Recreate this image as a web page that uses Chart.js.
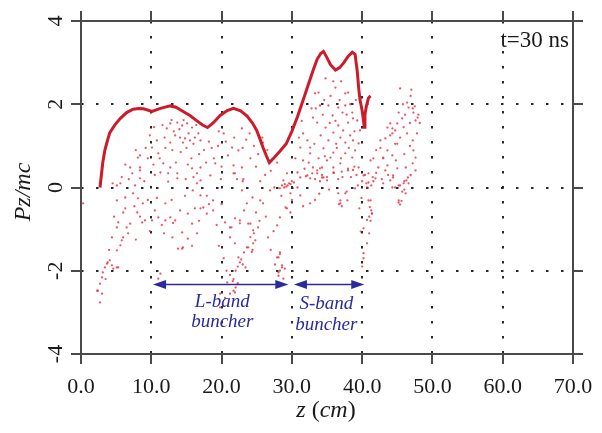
<!DOCTYPE html>
<html><head><meta charset="utf-8">
<script src="https://cdn.jsdelivr.net/npm/chart.js@4/dist/chart.umd.min.js"></script>
<style>html,body{margin:0;padding:0;background:#fff}#wrap{width:602px;height:433px}</style>
</head><body><div id="wrap"><canvas id="c" width="602" height="433"></canvas></div>
<script>
// ---- data ----
const xTickValues = [0, 10, 20, 30, 40, 50, 60, 70];
const xTickLabels = ['0.0', '10.0', '20.0', '30.0', '40.0', '50.0', '60.0', '70.0'];
const yTickValues = [4, 2, 0, -2, -4];
const yTickLabels = ['4', '2', '0', '-2', '-4'];
const xTitle = ['z', ' (', 'cm', ')'];
const yTitle = 'Pz/mc';
const timeLabel = 't=30 ns';

// dense front of the bunch (z, Pz)
const frontZ  = [2.7,2.9,3.1,3.4,3.8,4.1,4.8,5.6,6.5,7.4,8.2,8.9,10.1,11.3,12.7,13.5,14.3,15.5,16.5,17.3,18.0,18.8,19.8,20.8,21.7,22.7,23.6,24.4,25.0,25.5,25.9,26.4,26.8,27.5,28.3,29.2,30.0,30.8,31.5,32.1,32.6,33.1,33.6,34.1,34.5,34.9,35.5,36.2,36.8,37.4,38.0,38.6,39.0,39.3,39.5,39.7,40.0,40.2,40.3,40.4,40.6,40.9,41.2];
const frontPz = [0.0,0.3,0.6,0.9,1.15,1.32,1.5,1.66,1.8,1.88,1.9,1.89,1.83,1.9,1.96,1.93,1.85,1.73,1.6,1.5,1.44,1.55,1.73,1.85,1.9,1.84,1.72,1.55,1.37,1.15,0.96,0.75,0.6,0.72,0.87,1.05,1.35,1.7,2.05,2.35,2.6,2.85,3.08,3.22,3.27,3.15,2.95,2.82,2.88,3.0,3.15,3.25,3.2,2.8,2.4,2.1,1.85,1.6,1.45,1.75,1.95,2.15,2.2];

// scattered particles (z, Pz)
const cloudUpper = [[12.7,1.54],[13.7,1.56],[14.4,1.49],[15.1,1.54],[15.8,1.44],[12.2,1.42],[14.1,1.2],[14.8,1.18],[15.5,1.13],[16.2,1.2],[16.7,1.3],[14.5,1.08],[12.7,1.08],[10.8,1.13],[10.1,0.96],[11.0,0.82],[8.4,0.77],[9.5,0.7],[11.7,0.58],[12.7,0.48],[7.0,0.48],[8.4,0.48],[11.3,0.36],[12.4,0.34],[7.3,0.34],[13.7,0.34],[15.8,0.46],[16.5,0.34],[17.0,0.48],[17.0,1.13],[21.5,0.96],[22.4,0.89],[22.9,1.42],[20.9,0.77],[19.1,0.58],[21.7,0.53],[22.9,0.48],[24.1,0.7],[25.8,1.2],[25.9,1.08],[27.9,0.6],[21.9,0.34],[18.4,0.29],[13.2,1.35],[14.0,1.4],[15.3,1.3],[16.0,1.05],[13.0,0.9],[14.2,0.85],[15.7,0.7],[9.8,1.25],[11.9,1.2],[17.5,0.9],[18.2,1.1],[19.5,1.0],[20.3,1.3],[23.5,1.15],[24.6,1.0],[24.9,0.5],[26.2,0.3],[19.9,0.2],[9.0,0.15],[6.3,0.55],[5.8,0.25],[10.5,0.3],[14.9,0.2],[18.9,0.7],[23.1,0.2],[8.1,0.72],[8.4,0.41],[10.4,1.45],[11.6,1.5],[12.9,1.62],[14.6,1.62],[16.4,1.5],[13.4,1.25],[15.0,0.95],[16.8,0.8],[12.0,0.95],[11.2,0.7],[13.5,0.6],[15.2,0.55],[9.2,0.95],[10.3,0.55],[17.8,0.6],[18.6,0.95],[19.6,1.35],[20.6,1.1],[21.8,1.2],[23.0,0.95],[24.0,1.3],[25.2,0.8],[26.5,0.9],[27.0,0.4],[25.5,0.15],[20.0,0.5],[16.0,0.25],[7.8,0.9],[6.8,0.2],[4.5,0.1]];
const cloudSBand = [[31.2,0.96],[31.6,1.3],[32.2,1.13],[33.0,1.68],[33.6,1.56],[33.8,2.28],[33.3,2.26],[34.0,1.97],[32.6,0.82],[33.8,0.7],[33.0,0.48],[34.0,0.46],[33.6,0.34],[30.8,0.36],[32.2,0.29],[34.5,0.24],[34.8,2.62],[37.6,2.26],[38.0,2.28],[35.2,1.97],[36.6,1.92],[37.6,1.97],[37.2,1.8],[35.8,1.73],[38.6,1.8],[38.7,1.66],[38.0,1.56],[36.6,1.49],[34.8,1.44],[37.3,1.37],[35.9,1.32],[38.3,1.25],[36.9,1.2],[35.2,1.13],[37.6,1.08],[38.7,1.13],[34.5,0.94],[35.9,0.84],[37.6,0.82],[39.0,0.89],[35.0,0.65],[36.9,0.58],[38.6,0.72],[34.3,0.48],[35.9,0.36],[38.0,0.41],[39.5,1.06],[39.7,1.37],[39.3,1.61],[36.2,2.4],[36.8,2.1],[35.5,2.2],[34.4,1.75],[36.4,0.95],[38.9,0.5],[37.2,0.25],[32.9,0.34],[33.6,0.41],[34.3,0.24],[35.0,0.17],[29.3,0.34],[28.8,0.17],[31.6,0.65],[32.6,0.96],[31.0,1.2],[35.5,0.72],[35.9,0.48],[34.3,0.3],[35.0,0.25],[36.0,0.35],[37.1,0.38],[38.0,0.45],[38.7,0.42],[39.5,0.48],[33.4,1.9],[34.6,2.1],[35.9,2.55],[37.0,2.55],[38.3,2.0],[36.2,1.6],[37.8,1.75],[35.4,1.55],[34.1,1.25],[36.3,1.05],[38.1,0.95],[34.7,0.75],[37.0,0.7],[33.2,1.05],[31.8,0.45],[32.4,0.6],[36.6,0.2],[38.4,0.25],[39.2,0.3],[30.5,0.7],[31.4,1.6],[32.8,1.9],[39.1,2.1],[38.9,1.35]];
const cloudTail = [[45.4,2.38],[46.4,2.04],[46.6,1.92],[47.2,1.9],[47.3,1.8],[47.9,1.68],[47.6,1.61],[45.2,1.8],[45.7,1.66],[45.0,1.54],[44.3,1.42],[43.6,1.44],[44.7,1.37],[44.0,1.25],[43.3,1.18],[42.6,1.13],[45.4,1.2],[46.4,1.3],[47.2,1.13],[47.3,0.89],[47.6,0.72],[47.2,0.58],[47.6,0.41],[43.6,0.89],[44.3,0.77],[43.0,0.72],[41.6,0.7],[41.2,0.65],[42.3,0.48],[43.6,0.53],[45.0,0.46],[46.2,0.48],[44.4,0.29],[40.9,0.34],[40.2,0.29],[46.9,2.2],[47.5,1.95],[48.0,1.75],[45.9,1.45],[46.8,1.0],[42.0,0.9],[41.5,0.25],[46.0,0.15],[43.0,0.1],[44.0,1.54],[44.3,1.3],[44.7,1.05],[42.6,0.95],[43.0,0.7],[43.3,0.41],[44.0,0.17],[44.7,0.0],[45.2,0.05],[46.6,0.1],[46.2,-0.14],[45.2,-0.31],[44.4,0.24],[45.4,0.05],[45.9,0.1],[46.3,0.17],[46.5,0.24],[46.0,-0.05],[45.7,-0.1],[45.2,-0.36],[45.4,-0.41],[45.6,-0.32],[44.3,0.0],[43.7,0.3],[45.8,2.0],[46.1,1.75],[46.8,1.55],[47.8,1.3],[45.0,1.05],[46.0,0.8],[44.8,0.65],[46.9,0.3],[42.0,0.35],[42.8,0.2],[47.0,2.35],[48.2,1.55]];
const cloudLower = [[0.3,-0.38],[5.1,0.05],[5.6,0.1],[7.7,0.05],[8.4,0.22],[12.4,0.14],[13.7,0.22],[16.5,0.1],[17.0,0.17],[5.1,-0.31],[6.3,-0.24],[7.4,-0.14],[8.1,-0.26],[8.8,-0.38],[6.3,-0.5],[8.0,-0.6],[10.5,-0.55],[12.0,-0.38],[12.7,-0.72],[11.0,-0.72],[10.1,-0.79],[9.1,-0.79],[8.7,-0.84],[7.0,-0.87],[5.3,-0.84],[5.1,-0.96],[6.7,-1.1],[6.0,-1.2],[5.8,-1.27],[5.6,-1.39],[5.1,-1.51],[12.0,-0.79],[13.4,-0.79],[14.1,-0.55],[15.2,-0.63],[14.4,-1.08],[15.2,-1.23],[13.8,-1.47],[14.5,-1.44],[17.0,-0.19],[15.9,-0.07],[3.8,-1.8],[4.1,-1.75],[3.7,-1.83],[3.4,-1.92],[4.4,-1.87],[4.6,-1.95],[5.1,-1.92],[3.1,-2.04],[3.0,-2.16],[2.7,-2.31],[2.3,-2.48],[3.0,-2.55],[2.7,-2.76],[11.3,-2.07],[11.0,-2.19],[2.4,-2.48],[5.3,-1.92],[6.5,-0.96],[14.4,-1.47],[16.5,-1.1],[8.4,-0.7],[11.5,-0.9],[13.1,-0.85],[15.8,-0.87],[17.0,-0.5],[17.9,-0.63],[18.8,-0.55],[20.5,-0.84],[21.2,-0.96],[22.6,-0.79],[23.8,-0.87],[21.2,-1.2],[21.9,-1.34],[22.4,-1.68],[22.6,-1.8],[23.0,-1.85],[23.4,-1.92],[23.8,-1.44],[24.3,-1.55],[24.8,-1.27],[24.6,-1.1],[25.2,-0.96],[25.4,-0.8],[27.9,-1.68],[28.3,-1.6],[28.6,-1.92],[28.1,-2.04],[29.0,-1.95],[29.3,-0.5],[28.5,-0.2],[20.8,-2.28],[21.7,-2.48],[21.2,-2.55],[19.8,-2.55],[21.7,-2.2],[22.0,-2.4],[19.8,-2.88],[20.5,-2.65],[17.4,-0.48],[18.8,-0.31],[17.9,-0.2],[18.2,-0.4],[21.7,0.34],[22.2,0.2],[23.0,0.15],[22.9,-0.07],[24.4,-0.24],[23.6,-0.38],[25.5,-0.31],[25.9,-0.38],[26.9,-0.07],[27.5,0.0],[28.3,-0.02],[28.6,0.05],[29.0,0.08],[29.4,0.05],[29.8,0.08],[31.2,0.24],[32.0,0.27],[32.6,0.22],[33.3,0.2],[34.0,0.15],[29.8,-0.14],[30.8,0.0],[31.2,-0.19],[29.1,-0.48],[29.8,-0.6],[28.3,-0.72],[27.9,-0.91],[27.4,-1.05],[21.9,-0.74],[22.6,-0.86],[21.4,-0.96],[24.1,-0.87],[24.5,-1.03],[24.1,-1.19],[23.6,-1.44],[24.5,-1.34],[24.4,-1.5],[23.2,-1.56],[22.8,-1.73],[22.3,-1.9],[22.0,-2.0],[21.2,-2.1],[21.6,-2.25],[21.9,-2.52],[22.3,-2.3],[28.3,-1.56],[28.1,-1.68],[28.6,-1.87],[28.3,-2.0],[28.1,-2.12],[28.8,-2.19],[32.6,-0.38],[33.3,-0.3],[37.6,-0.14],[37.8,-0.1],[36.9,-0.38],[37.1,-0.45],[39.0,-0.02],[39.4,0.05],[40.0,0.15],[40.4,0.3],[40.6,0.1],[40.9,0.12],[41.3,0.05],[41.6,0.15],[41.9,0.22],[40.9,-0.31],[41.1,-0.47],[41.3,-0.55],[41.4,-0.63],[41.0,-0.7],[40.7,-0.78],[41.2,-0.8],[40.2,-0.98],[39.8,-1.06],[41.0,-1.1],[40.7,-1.34],[40.2,-1.58],[40.2,-1.7],[40.0,-1.9],[36.6,-0.14],[37.9,-0.31],[36.9,-0.31],[36.7,-0.4],[40.7,0.0],[41.2,-0.31],[41.4,-0.62],[6.0,-0.6],[7.6,-0.45],[9.5,-0.3],[10.8,-0.25],[12.9,-0.3],[14.8,-0.2],[16.2,-0.5],[11.8,-1.1],[13.0,-1.2],[9.8,-1.05],[7.8,-1.25],[15.8,-1.4],[16.8,-0.8],[19.3,-0.9],[20.0,-0.4],[19.6,-1.4],[20.3,-1.7],[20.7,-2.0],[23.2,-0.55],[24.9,-0.6],[26.3,-0.7],[26.6,-1.2],[27.0,-1.5],[27.6,-1.85],[30.0,-0.3],[31.6,-0.45],[33.9,-0.15],[35.3,-0.05],[39.6,-0.5],[39.9,-0.25],[4.0,-1.5],[4.4,-1.2],[4.7,-0.7],[3.5,-2.2],[28.9,0.0],[29.2,0.02],[29.6,0.1],[30.0,0.15],[30.3,0.12]];

// annotation arrows: [zStart, zEnd, Pz] and labels
const arrowSpans = [[10.25, 29.5, -2.33], [30.3, 40.3, -2.33]];
const arrowLabels = [['L-band', 'buncher'], ['S-band', 'buncher']];
const arrowLabelZ = [20.1, 34.9];

// ---- drawing ----
const toPts = a => a.map(p => ({x: p[0], y: p[1]}));
const cloudAll = [].concat(cloudUpper, cloudSBand, cloudTail, cloudLower);
const frontPts = frontZ.map((z, i) => ({x: z, y: frontPz[i]}));

const FRAME = '#4a4a4a';
const SERIF = "'Liberation Serif', 'DejaVu Serif', serif";
const BLUE = '#2b2b9e';

const decor = {
  id: 'decor',
  afterDraw(chart) {
    const {ctx, chartArea: a, scales: {x, y}} = chart;
    ctx.save();
    ctx.strokeStyle = FRAME; ctx.lineWidth = 2;
    ctx.strokeRect(a.left, a.top, a.right - a.left, a.bottom - a.top);
    ctx.fillStyle = '#1a1a1a';
    ctx.font = '22px ' + SERIF;
    ctx.textAlign = 'center'; ctx.textBaseline = 'alphabetic';
    xTickValues.forEach((v, i) => ctx.fillText(xTickLabels[i], x.getPixelForValue(v), 393));
    yTickValues.forEach((v, i) => {
      ctx.save();
      ctx.translate(62, y.getPixelForValue(v));
      ctx.rotate(-Math.PI / 2);
      ctx.textAlign = 'center'; ctx.textBaseline = 'alphabetic';
      ctx.fillText(yTickLabels[i], 0, 0);
      ctx.restore();
    });
    ctx.save();
    ctx.translate(30, 192);
    ctx.rotate(-Math.PI / 2);
    ctx.font = 'italic 24px ' + SERIF;
    ctx.textAlign = 'center';
    ctx.fillText(yTitle, 0, 0);
    ctx.restore();
    const styles = ['italic 24px ', '24px ', 'italic 24px ', '24px '];
    let total = 0;
    const widths = xTitle.map((t, i) => { ctx.font = styles[i] + SERIF; const w = ctx.measureText(t).width; total += w; return w; });
    let cx = 326 - total / 2;
    ctx.textAlign = 'left';
    xTitle.forEach((t, i) => { ctx.font = styles[i] + SERIF; ctx.fillText(t, cx, 417); cx += widths[i]; });
    ctx.font = '23px ' + SERIF;
    ctx.textAlign = 'right';
    ctx.fillText(timeLabel, 569, 47);
    ctx.strokeStyle = BLUE; ctx.fillStyle = BLUE; ctx.lineWidth = 1.6;
    arrowSpans.forEach(s => {
      const x1 = x.getPixelForValue(s[0]), x2 = x.getPixelForValue(s[1]), yy = y.getPixelForValue(s[2]);
      const hl = 13, hw = 4.5;
      ctx.beginPath(); ctx.moveTo(x1 + hl - 2, yy); ctx.lineTo(x2 - hl + 2, yy); ctx.stroke();
      ctx.beginPath(); ctx.moveTo(x1, yy); ctx.lineTo(x1 + hl, yy - hw); ctx.lineTo(x1 + hl, yy + hw); ctx.closePath(); ctx.fill();
      ctx.beginPath(); ctx.moveTo(x2, yy); ctx.lineTo(x2 - hl, yy - hw); ctx.lineTo(x2 - hl, yy + hw); ctx.closePath(); ctx.fill();
    });
    ctx.font = 'italic 19px ' + SERIF;
    ctx.textAlign = 'center';
    const base = [[307, 327], [309, 330]];
    arrowLabels.forEach((lines, i) => {
      const px = x.getPixelForValue(arrowLabelZ[i]);
      lines.forEach((t, j) => ctx.fillText(t, px, base[i][j]));
    });
    ctx.restore();
  }
};

const gridCommon = { color: '#2a2a2a', lineWidth: 2, borderDash: [2.5, 12.5], drawTicks: true, tickLength: 10, tickWidth: 2, tickColor: FRAME, tickBorderDash: [] };
const borderCommon = { display: false, dash: [2.5, 12.5] };

new Chart(document.getElementById('c'), {
  type: 'scatter',
  data: {
    datasets: [
      { label: 'front', data: frontPts, showLine: true, borderColor: '#cc1b2a', borderWidth: 3, pointRadius: 0, tension: 0, order: 1 },
      { label: 'particles', data: toPts(cloudAll), pointRadius: 1.15, pointBorderWidth: 0, backgroundColor: 'rgba(228,45,65,0.8)', borderColor: 'rgba(0,0,0,0)', order: 2 }
    ]
  },
  plugins: [decor],
  options: {
    responsive: false,
    animation: false,
    devicePixelRatio: 1,
    layout: { padding: { left: 71, right: 19, top: 11, bottom: 69 } },
    plugins: { legend: { display: false }, tooltip: { enabled: false } },
    scales: {
      x: { type: 'linear', position: 'bottom', min: 0, max: 70, afterBuildTicks: s => { s.ticks = xTickValues.map(v => ({value: v})); }, ticks: { display: false }, grid: gridCommon, border: borderCommon },
      y: { type: 'linear', position: 'left', min: -4, max: 4, afterBuildTicks: s => { s.ticks = yTickValues.map(v => ({value: v})); }, ticks: { display: false }, grid: gridCommon, border: borderCommon },
      x2: { type: 'linear', position: 'top', min: 0, max: 70, afterBuildTicks: s => { s.ticks = xTickValues.map(v => ({value: v})); }, ticks: { display: false }, grid: Object.assign({}, gridCommon, { drawOnChartArea: false }), border: { display: false } },
      y2: { type: 'linear', position: 'right', min: -4, max: 4, afterBuildTicks: s => { s.ticks = yTickValues.map(v => ({value: v})); }, ticks: { display: false }, grid: Object.assign({}, gridCommon, { drawOnChartArea: false }), border: { display: false } }
    }
  }
});
</script>
</body></html>
